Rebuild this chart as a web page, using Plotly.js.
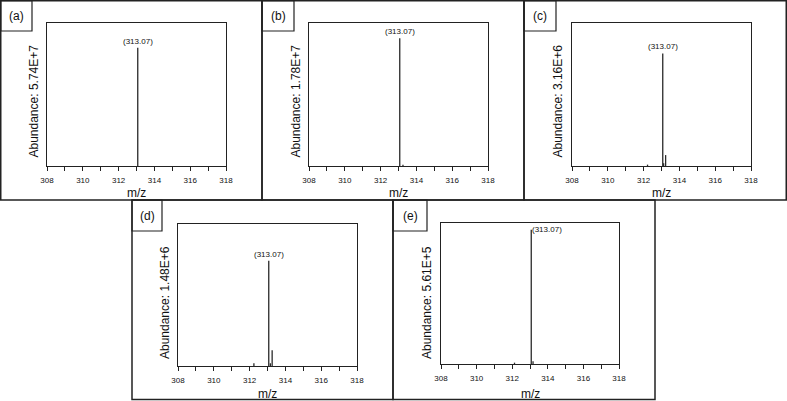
<!DOCTYPE html>
<html>
<head>
<meta charset="utf-8">
<script src="https://cdn.plot.ly/plotly-3.0.1.min.js"></script>
<style>html,body{margin:0;padding:0;background:#fff;}#chart{width:787px;height:401px;}</style>
</head>
<body>
<div id="chart"></div>
<script>
// ---- data (relative intensity, % of base peak) ----
const panelLabels = ['(a)', '(b)', '(c)', '(d)', '(e)'];
const abundanceText = ['5.74E+7', '1.78E+7', '3.16E+6', '1.48E+6', '5.61E+5'];
const basePeakLabel = '(313.07)';
const basePeakMz = 313.07;

const mzA = [313.07];
const intA = [100];
const mzB = [313.07, 313.25];
const intB = [100, 0.9];
const mzC = [312.22, 313.07, 313.12, 313.23];
const intC = [1.2, 100, 2.5, 9.7];
const mzD = [312.24, 313.07, 313.16, 313.26];
const intD = [2.6, 100, 2.6, 14.9];
const mzE = [312.13, 313.07, 313.17];
const intE = [1.0, 100, 2.0];

const xTickVals = [308, 309, 310, 311, 312, 313, 314, 315, 316, 317, 318];
const xTickText = ['308', '', '310', '', '312', '', '314', '', '316', '', '318'];

// ---- layout geometry (pixels) ----
const W = 787, H = 401;
const peaks = [[mzA, intA], [mzB, intB], [mzC, intC], [mzD, intD], [mzE, intE]];
const plotBox = [ // left, right, top, bottom
  [47, 226, 23, 166],
  [309, 488, 23, 166],
  [572, 751, 23, 166],
  [178, 357, 224, 366],
  [441, 619, 223, 364]
];
const yTop = [121, 112, 127, 135, 105];
const outerBox = [
  [0.75, 262, 0.75, 200],
  [262, 524, 0.75, 200],
  [524, 786.25, 0.75, 200],
  [132, 393, 200, 399.5],
  [393, 655, 200, 399.5]
];
const labelBox = [
  [0.75, 32, 0.75, 31],
  [262, 294, 0.75, 31],
  [524, 556, 0.75, 31],
  [132, 162, 200, 231],
  [393, 427, 200, 231]
];
const yTitlePos = [[33, 160], [295, 160], [557, 160], [164.5, 361], [426.5, 361]];
const mzTitleY = [193, 193, 193, 394, 394];

const px = v => v / W;
const py = v => 1 - v / H;

const font = '"Liberation Sans", Arial, Helvetica, sans-serif';
const data = [];
const layout = {
  width: W, height: H,
  margin: {l: 0, r: 0, t: 0, b: 0},
  paper_bgcolor: '#fff', plot_bgcolor: '#fff',
  showlegend: false,
  font: {family: font, color: '#111'},
  shapes: [], annotations: []
};

peaks.forEach((pk, i) => {
  const sfx = i === 0 ? '' : String(i + 1);
  const xs = [], ys = [];
  pk[0].forEach((m, j) => { xs.push(m, m, null); ys.push(0, pk[1][j], null); });
  data.push({
    type: 'scatter', mode: 'lines', x: xs, y: ys,
    xaxis: 'x' + sfx, yaxis: 'y' + sfx,
    line: {color: '#2a2a2a', width: 1.3},
    hoverinfo: 'skip'
  });
  const b = plotBox[i];
  layout['xaxis' + sfx] = {
    domain: [px(b[0]), px(b[1])], anchor: 'y' + sfx,
    range: [308, 318], tickmode: 'array', tickvals: xTickVals, ticktext: xTickText,
    ticks: 'outside', ticklen: 4, tickwidth: 1, tickcolor: '#222',
    ticklabelstandoff: 2,
    tickfont: {size: 8, family: font, color: '#111'},
    showline: true, linecolor: '#222', linewidth: 1.2, mirror: true,
    showgrid: false, zeroline: false, fixedrange: true
  };
  layout['yaxis' + sfx] = {
    domain: [py(b[3]), py(b[2])], anchor: 'x' + sfx,
    range: [0, yTop[i]], showticklabels: false, ticks: '',
    showline: true, linecolor: '#222', linewidth: 1.2, mirror: true,
    showgrid: false, zeroline: false, fixedrange: true
  };
  // outer frame
  const o = outerBox[i];
  layout.shapes.push({type: 'rect', xref: 'paper', yref: 'paper',
    x0: px(o[0]), x1: px(o[1]), y0: py(o[3]), y1: py(o[2]),
    line: {color: '#222', width: 1.5}});
  const lb = labelBox[i];
  layout.shapes.push({type: 'rect', xref: 'paper', yref: 'paper',
    x0: px(lb[0]), x1: px(lb[1]), y0: py(lb[3]), y1: py(lb[2]),
    line: {color: '#222', width: 1.2}});
  layout.annotations.push({xref: 'paper', yref: 'paper',
    x: px((lb[0] + lb[1]) / 2), y: py((lb[2] + lb[3]) / 2 + 0.5),
    text: panelLabels[i], showarrow: false, xanchor: 'center', yanchor: 'middle',
    font: {size: 12, family: font, color: '#111'}});
  // y title
  const yt = yTitlePos[i];
  layout.annotations.push({xref: 'paper', yref: 'paper',
    x: px(yt[0]), y: py(yt[1]), textangle: -90,
    text: 'Abundance: ' + abundanceText[i], showarrow: false,
    xanchor: 'center', yanchor: 'bottom',
    font: {size: 12, family: font, color: '#111'}});
  // x title
  layout.annotations.push({xref: 'paper', yref: 'paper',
    x: px((b[0] + b[1]) / 2), y: py(mzTitleY[i]),
    text: 'm/z', showarrow: false, xanchor: 'center', yanchor: 'middle',
    font: {size: 12, family: font, color: '#111'}});
  // base peak label
  const isE = i === 4;
  layout.annotations.push({xref: 'x' + sfx, yref: 'y' + sfx,
    x: basePeakMz, y: 100, text: basePeakLabel, showarrow: false,
    xanchor: isE ? 'left' : 'center', yanchor: isE ? 'middle' : 'bottom',
    xshift: isE ? -1 : 0, yshift: isE ? 0 : 0,
    font: {size: 8, family: font, color: '#111'}});
});

Plotly.newPlot('chart', data, layout, {staticPlot: true, displayModeBar: false});
</script>
</body>
</html>
